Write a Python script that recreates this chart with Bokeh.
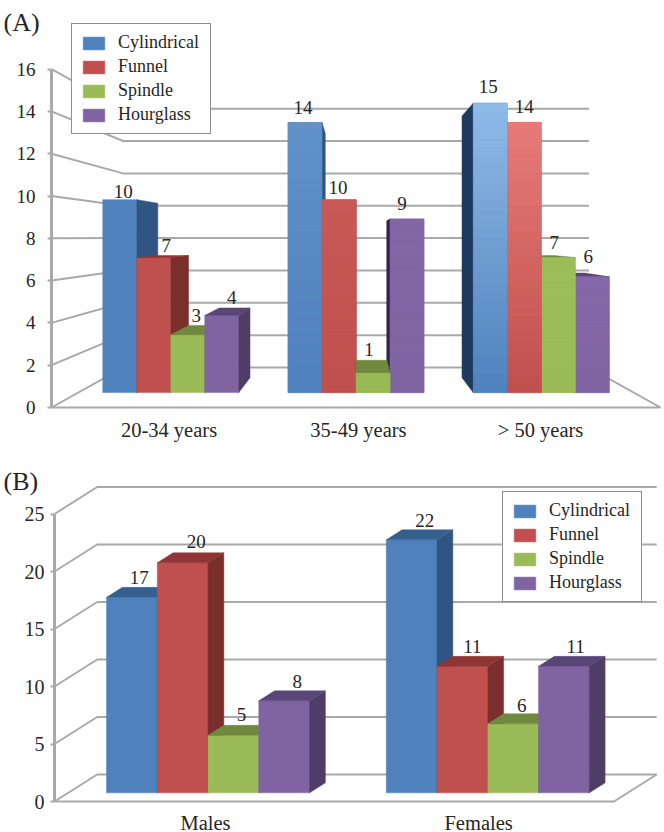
from bokeh.plotting import figure
from bokeh.layouts import column
from bokeh.models import (ColumnDataSource, FixedTicker, Label, Legend, LegendItem,
                          LinearAxis, Range1d)
from bokeh.core.properties import value
from bokeh.embed import file_html
from bokeh.resources import INLINE

# ---- data ----
series = ["Cylindrical", "Funnel", "Spindle", "Hourglass"]
age_groups = ["20-34 years", "35-49 years", "> 50 years"]
age_cylindrical = [10, 14, 15]
age_funnel = [7, 10, 14]
age_spindle = [3, 1, 7]
age_hourglass = [4, 9, 6]
sex_groups = ["Males", "Females"]
sex_cylindrical = [17, 22]
sex_funnel = [20, 11]
sex_spindle = [5, 6]
sex_hourglass = [8, 11]
age_ticks = list(range(0, 17, 2))
sex_ticks = list(range(0, 26, 5))

# ---- styles / layout ----
FONT = "Liberation Serif"
INK = "#262626"
GRID = "#a9a9a9"
FRONT = ["#4f81bd", "#c0504d", "#9bbb59", "#8064a2"]
LIGHT = ["#8fbbe8", "#ea7e7a", "#9fc05c", "#8d6fb4"]
SIDE = ["#2f5583", "#7b2f2d", "#71893f", "#4f3d68"]
LEFT_SIDE = ["#1e3a5f", "#5c2220", "#55672f", "#33264a"]
TOP = ["#34608f", "#8f3533", "#71893f", "#5a4578"]
# pixel nudges of the value labels from the front-top centre of their bars
A_NUDGE = [[(3.5, -2), (-2, -9), (-2, -11)], [(12.5, -6), (-1, -6), (0, -10)],
           [(8.5, -13), (-4, -18), (-4, -9)], [(10, -12), (-5, -9), (-4, -14)]]
B_NUDGE = [[(7.4, -14), (13, -13)], [(13.6, -15), (10, -14)],
           [(8, -15), (8.5, -12)], [(13, -13.4), (11.7, -14)]]
BASELINE_FIX = -6
A_SHEEN = [0.0, 0.3, 1.0]   # strength of the top-lit shading per age group
B_SHEEN = [0.0, 0.0]
BANDS = 32


def blend(a, b, t):
    ca = [int(a[i:i + 2], 16) for i in (1, 3, 5)]
    cb = [int(b[i:i + 2], 16) for i in (1, 3, 5)]
    return "#%02x%02x%02x" % tuple(round(x + (y - x) * t) for x, y in zip(ca, cb))


def style_axes(p, ticks, cat_ticks, cat_labels, standoff, y_standoff, y_size):
    p.xaxis.visible = False
    p.yaxis.visible = False
    y = LinearAxis(ticker=FixedTicker(ticks=ticks), bounds=(ticks[0], ticks[-1]), fixed_location=0)
    y.axis_line_color = GRID
    y.axis_line_width = 3
    y.major_tick_line_color = GRID
    y.major_tick_line_width = 2
    y.major_tick_out = 4
    y.major_tick_in = 0
    y.minor_tick_line_color = None
    y.major_label_standoff = y_standoff
    y.major_label_text_font = FONT
    y.major_label_text_font_size = y_size
    y.major_label_text_color = INK
    p.add_layout(y, "left")
    x = LinearAxis(ticker=FixedTicker(ticks=cat_ticks), fixed_location=0)
    x.axis_line_color = None
    x.major_tick_line_color = None
    x.minor_tick_line_color = None
    x.major_tick_out = 0
    x.major_tick_in = 0
    x.major_label_overrides = dict(zip(cat_ticks, cat_labels))
    x.major_label_standoff = standoff
    x.major_label_text_font = FONT
    x.major_label_text_font_size = "20.5px"
    x.major_label_text_color = INK
    p.add_layout(x, "below")


def draw_bars(p, project, values, groups, s_front, s_back, bar_w, nudges, sheen, vanish=None):
    """Draws every bar as projected faces, farthest from the vanishing line first."""
    bars = []
    for si, vals in enumerate(values):
        for gi, v in enumerate(vals):
            c = gi + 0.5 + (si - 1.5) * bar_w
            bars.append((si, gi, v, c - bar_w / 2, c + bar_w / 2))
    if vanish is not None:
        bars.sort(key=lambda b: -abs((b[3] + b[4]) / 2 - vanish))
    first = {}
    for si, gi, v, x0, x1 in bars:
        quad = lambda pts: tuple(zip(*pts))
        front = quad([project(x0, 0, s_front), project(x1, 0, s_front),
                      project(x1, v, s_front), project(x0, v, s_front)])
        xs, ys, cols = [list(front[0])], [list(front[1])], [FRONT[si]]
        right = vanish is None or x1 <= vanish
        edge = x1 if right else (x0 if x0 >= vanish else None)
        if edge is not None:
            side = quad([project(edge, 0, s_front), project(edge, 0, s_back),
                         project(edge, v, s_back), project(edge, v, s_front)])
            xs.append(list(side[0])); ys.append(list(side[1]))
            cols.append(SIDE[si] if right else LEFT_SIDE[si])
        back_y = project(x0, v, s_back)[1]
        front_y = project(x0, v, s_front)[1]
        if back_y > front_y:
            top = quad([project(x0, v, s_front), project(x1, v, s_front),
                        project(x1, v, s_back), project(x0, v, s_back)])
            xs.append(list(top[0])); ys.append(list(top[1])); cols.append(TOP[si])
        if sheen[gi] > 0:
            for k in range(BANDS):
                v0, v1 = v * k / BANDS, v * (k + 1) / BANDS
                band = quad([project(x0, v0, s_front), project(x1, v0, s_front),
                             project(x1, v1, s_front), project(x0, v1, s_front)])
                xs.append(list(band[0])); ys.append(list(band[1]))
                cols.append(blend(FRONT[si], LIGHT[si], sheen[gi] * (k + 0.5) / BANDS * v / 15))
        r = p.patches(xs="xs", ys="ys", fill_color="c", line_color="c", line_width=0.5,
                      source=ColumnDataSource(dict(xs=xs, ys=ys, c=cols)))
        first.setdefault(si, r)
    tx, ty, tt, dx, dy = [], [], [], [], []
    for si, vals in enumerate(values):
        for gi, v in enumerate(vals):
            c = gi + 0.5 + (si - 1.5) * bar_w
            px, py = project(c, v, s_front)
            tx.append(px); ty.append(py); tt.append(str(v))
            dx.append(nudges[si][gi][0]); dy.append(nudges[si][gi][1] + BASELINE_FIX)
    p.text(x="x", y="y", text="t", x_offset="dx", y_offset="dy",
           source=ColumnDataSource(dict(x=tx, y=ty, t=tt, dx=dx, dy=dy)),
           text_font=value(FONT), text_font_size="19px", text_color=INK,
           text_align="center", text_baseline="alphabetic")
    return first


def add_legend(p, renderers, loc, pad):
    items = [LegendItem(label=value(s), renderers=[renderers[i]]) for i, s in enumerate(series)]
    lg = Legend(items=items, location=loc, glyph_width=27, glyph_height=16,
                label_standoff=11, label_height=19, label_width=84, spacing=3, padding=pad,
                margin=0, border_line_color="#222222", border_line_width=1.5,
                background_fill_color="white", background_fill_alpha=1,
                label_text_font=FONT, label_text_font_size="18px", label_text_color=INK)
    p.add_layout(lg)


def make_figure(w_px, h_px, left, floor_px, xunit, yunit):
    """The frame fills the whole figure; value 0 lies floor_px from its top, left px from its left."""
    p = figure(width=w_px, height=h_px, output_backend="svg", toolbar_location=None,
               x_range=Range1d(-left / xunit, (w_px - left) / xunit),
               y_range=Range1d(-(h_px - floor_px) / yunit, floor_px / yunit),
               min_border_left=0, min_border_right=0, min_border_top=0,
               min_border_bottom=0, outline_line_color=None, background_fill_color="white")
    p.grid.visible = False
    return p


def panel_label(p, text, x, y):
    p.add_layout(Label(x=x, y=y, x_units="screen", y_units="screen", text=text,
                       text_baseline="alphabetic", text_font=FONT,
                       text_font_size="26px", text_color=INK))


# ---- panel A: one-point perspective, in data units ----
VX, VY = 1.5, 8.04
S_BACK, S_BAR0, S_BAR1 = 0.765, 0.9125, 0.825


def proj_a(x, v, s):
    return VX + s * (x - VX), VY + s * (v - VY)


pa = make_figure(664, 446, 51, 407, 203.0, 21.15)
lines_x, lines_y = [], []
for t in age_ticks:
    pts = [proj_a(0, t, 1), proj_a(0, t, S_BACK), proj_a(3, t, S_BACK)]
    lines_x.append([q[0] for q in pts]); lines_y.append([q[1] for q in pts])
pts = [proj_a(0, 0, 1), proj_a(3, 0, 1), proj_a(3, 0, S_BACK)]
lines_x.append([q[0] for q in pts]); lines_y.append([q[1] for q in pts])
pa.multi_line(lines_x, lines_y, line_color=GRID, line_width=2)
age_values = [age_cylindrical, age_funnel, age_spindle, age_hourglass]
ra = draw_bars(pa, proj_a, age_values, age_groups, S_BAR0, S_BAR1, 0.1835, A_NUDGE, A_SHEEN, vanish=VX)
style_axes(pa, age_ticks, [0.579, 1.512, 2.409], age_groups, 11, 12, "19px")
add_legend(pa, ra, (71, 312), 8)
panel_label(pa, "(A)", 3, 424)

# ---- panel B: oblique projection, in data units ----
DX, DY = 0.1526, 2.348
D_BAR0, D_BAR1 = 0.32, 0.69


def proj_b(x, v, d):
    return x + d * DX, v + d * DY


pb = make_figure(664, 386, 54, 355, 279.75, 11.5)
lines_x, lines_y = [], []
for t in sex_ticks:
    pts = [proj_b(0, t, 0), proj_b(0, t, 1), proj_b(2, t, 1)]
    lines_x.append([q[0] for q in pts]); lines_y.append([q[1] for q in pts])
pts = [proj_b(0, 0, 0), proj_b(2, 0, 0), proj_b(2, 0, 1)]
lines_x.append([q[0] for q in pts]); lines_y.append([q[1] for q in pts])
pb.multi_line(lines_x, lines_y, line_color=GRID, line_width=2)
sex_values = [sex_cylindrical, sex_funnel, sex_spindle, sex_hourglass]
rb = draw_bars(pb, proj_b, sex_values, sex_groups, D_BAR0, D_BAR1, 0.1814, B_NUDGE, B_SHEEN)
style_axes(pb, sex_ticks, [0.54, 1.516], sex_groups, 10, 6, "20px")
add_legend(pb, rb, (502, 230), 8)
panel_label(pb, "(B)", 3, 351)

page = column(pa, pb, spacing=0)
open("out.html", "w").write(file_html(page, INLINE))
